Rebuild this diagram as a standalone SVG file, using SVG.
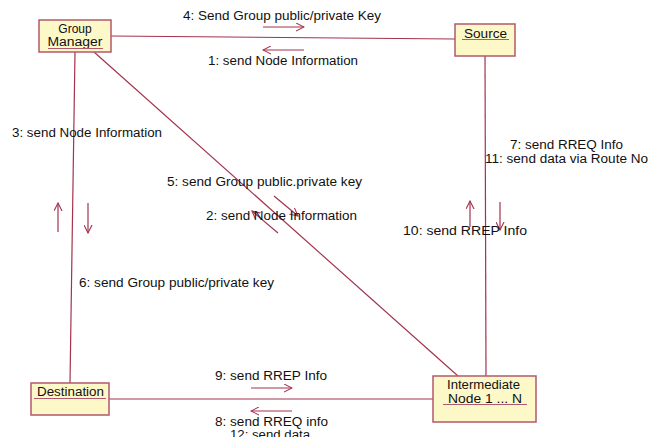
<svg xmlns="http://www.w3.org/2000/svg" width="649" height="437" viewBox="0 0 649 437">
<defs>
<style>
.box{fill:#fdf8c8;stroke:#b3586c;stroke-width:1.5}
.ln{stroke:#a3334e;stroke-width:1.2;fill:none}
.ul{stroke:#b3586c;stroke-width:1.2}
.ar{stroke:#a3334e;stroke-width:1.2;fill:none;marker-end:url(#oa)}
text{font-family:"Liberation Sans",Arial,sans-serif;font-size:12px;fill:#111}
.c{text-anchor:middle}
</style>
<marker id="oa" viewBox="0 0 10 10" refX="9" refY="5" markerWidth="9" markerHeight="9" markerUnits="userSpaceOnUse" orient="auto">
<path d="M0,0.5 L9,5 L0,9.5" fill="none" stroke="#a3334e" stroke-width="1.2"/>
</marker>
</defs>
<g id="connectors">
<line class="ln" x1="111" y1="36" x2="455" y2="39"/>
<line class="ln" x1="75" y1="52" x2="70" y2="383"/>
<line class="ln" x1="94" y1="52" x2="458" y2="376"/>
<line class="ln" x1="485" y1="56" x2="486" y2="376"/>
<line class="ln" x1="109" y1="399" x2="433" y2="399"/>
<line class="ar" x1="263" y1="27" x2="304" y2="27"/>
<line class="ar" x1="304" y1="50" x2="263" y2="50"/>
<line class="ar" x1="58" y1="232" x2="58" y2="203"/>
<line class="ar" x1="88" y1="203" x2="88" y2="233"/>
<line class="ar" x1="274" y1="196" x2="298" y2="216"/>
<line class="ar" x1="278" y1="233" x2="252" y2="211"/>
<line class="ar" x1="470" y1="227" x2="470" y2="201"/>
<line class="ar" x1="500" y1="202" x2="500" y2="230"/>
<line class="ar" x1="251" y1="388" x2="292" y2="388"/>
<line class="ar" x1="292" y1="411" x2="251" y2="411"/>
<text x="183" y="20" textLength="198" lengthAdjust="spacingAndGlyphs">4: Send Group public/private Key</text>
<text x="208" y="65" textLength="150" lengthAdjust="spacingAndGlyphs">1: send Node Information</text>
<text x="12" y="137" textLength="150" lengthAdjust="spacingAndGlyphs">3: send Node Information</text>
<text x="79" y="287" textLength="195" lengthAdjust="spacingAndGlyphs">6: send Group public/private key</text>
<text x="167" y="186" textLength="195" lengthAdjust="spacingAndGlyphs">5: send Group public.private key</text>
<text x="206" y="220" textLength="151" lengthAdjust="spacingAndGlyphs">2: send Node Information</text>
<text x="510" y="149" textLength="113" lengthAdjust="spacingAndGlyphs">7: send RREQ Info</text>
<text x="485" y="163" textLength="163" lengthAdjust="spacingAndGlyphs">11: send data via Route No</text>
<text x="403" y="235" textLength="124" lengthAdjust="spacingAndGlyphs">10: send RREP Info</text>
<text x="215" y="380" textLength="112" lengthAdjust="spacingAndGlyphs">9: send RREP Info</text>
<text x="215" y="426" textLength="113" lengthAdjust="spacingAndGlyphs">8: send RREQ info</text>
<text x="230" y="439" textLength="80" lengthAdjust="spacingAndGlyphs">12: send data</text>
</g>
<g id="group-manager">
<rect class="box" x="39" y="20" width="72" height="32"/>
<text class="c" x="75" y="33">Group</text>
<text class="c" x="75" y="46" textLength="55" lengthAdjust="spacingAndGlyphs">Manager</text>
<line class="ul" x1="48" y1="48.5" x2="103" y2="48.5"/>
</g>
<g id="source">
<rect class="box" x="455" y="24" width="60" height="32"/>
<text x="464" y="38" textLength="43" lengthAdjust="spacingAndGlyphs">Source</text>
<line class="ul" x1="462" y1="39.5" x2="509" y2="39.5"/>
</g>
<g id="destination">
<rect class="box" x="31" y="383" width="78" height="32"/>
<text x="37" y="396" textLength="67" lengthAdjust="spacingAndGlyphs">Destination</text>
<line class="ul" x1="34" y1="398.5" x2="106" y2="398.5"/>
</g>
<g id="intermediate">
<rect class="box" x="433" y="376" width="103" height="46"/>
<text x="447" y="389" textLength="73" lengthAdjust="spacingAndGlyphs">Intermediate</text>
<text x="448" y="403" textLength="74" lengthAdjust="spacingAndGlyphs">Node 1 ... N</text>
<line class="ul" x1="443" y1="404.5" x2="527" y2="404.5"/>
</g>
</svg>
